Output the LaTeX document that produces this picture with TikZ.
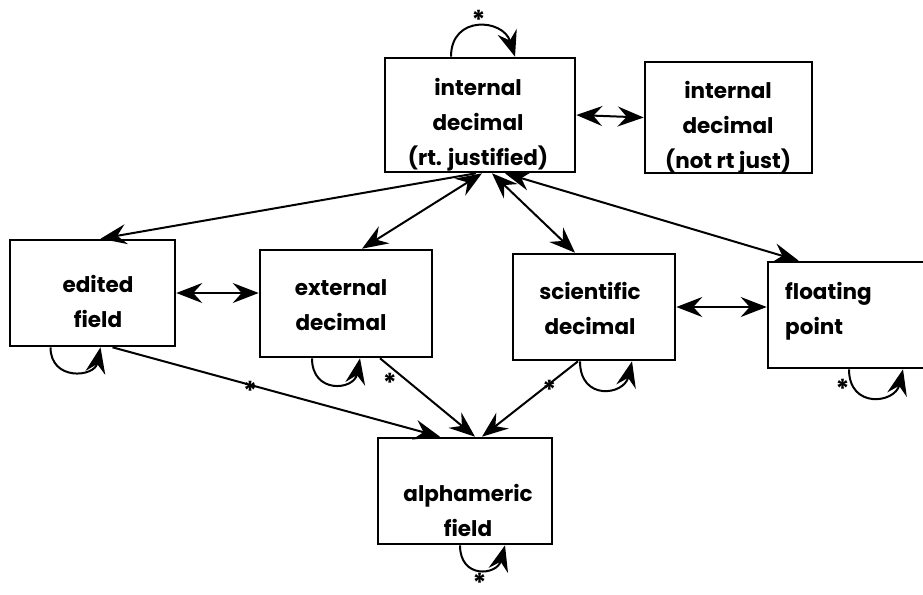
\documentclass[tikz,border=0pt]{standalone}
\usepackage{fontspec}
\setmainfont{Poppins}
\newcommand{\starmark}{\raisebox{-0.43em}[0.32em][0pt]{*}}
\usetikzlibrary{arrows.meta}

\tikzset{
  box/.style={draw, line width=2.6pt, inner sep=0pt},
  txt/.style={align=center, inner sep=0pt, font=\bfseries\fontsize{21.5}{35}\selectfont},
  conv/.style={line width=2pt},
  star/.style={font=\bfseries\fontsize{26}{26}\selectfont, inner sep=0pt},
  barb/.tip={Stealth[length=26pt,width=20pt,inset=9pt]}
}

\begin{document}
\begin{tikzpicture}[x=1pt,y=-1pt]
\useasboundingbox (0,0) rectangle (923,594);

% boxes
\node[box, minimum width=190pt, minimum height=114pt] (intr) at (480,115) {};
\node[box, minimum width=167pt, minimum height=111pt] (intn) at (728.5,117.5) {};
\node[box, minimum width=165pt, minimum height=106pt] (edit) at (92.5,293) {};
\node[box, minimum width=172pt, minimum height=107pt] (ext) at (346,303.5) {};
\node[box, minimum width=162pt, minimum height=106pt] (sci) at (594,307) {};
\node[box, minimum width=172pt, minimum height=106pt] (flt) at (854,315) {};
\node[box, minimum width=174pt, minimum height=106pt] (alpha) at (465,491) {};

% texts
\node[txt] (intr-t) at (478,125) {internal\\decimal\\(rt. justified)};
\node[txt] (intn-t) at (728,128) {internal\\decimal\\(not rt just)};
\node[txt] (edit-t) at (98,301) {edited\\field};
\node[txt] (ext-t) at (341,305) {external\\decimal};
\node[txt] (sci-t) at (590,308) {scientific\\decimal};
\node[txt, align=left, anchor=west] (flt-t) at (785,311) {floating\\point};
\node[txt] (alpha-t) at (468,510) {alphameric\\field};

% conversions
\draw[conv,barb-barb] (intr.east) -- (intn.west);
\draw[conv,-barb] ([xshift=-4pt]intr.south) -- ([xshift=8pt]edit.north);
\draw[conv,barb-barb] ([xshift=2pt]intr.south) -- ([xshift=16pt]ext.north);
\draw[conv,barb-barb] ([xshift=12pt]intr.south) -- ([xshift=-19pt]sci.north);
\draw[conv,barb-barb] ([xshift=25pt]intr.south) -- ([xshift=32pt]flt.north west);
\draw[conv,barb-barb] (edit.east) -- (ext.west |- edit.east);
\draw[conv,barb-barb] (sci.east) -- (flt.west |- sci.east);
\draw[conv,-barb] ([xshift=20pt]edit.south) -- node[star,pos=0.42] (s1) {\starmark} ([xshift=-25pt]alpha.north);
\draw[conv,-barb] ([xshift=34pt]ext.south) -- node[star,pos=0.24,left=5pt] (s2) {\starmark} ([xshift=10pt]alpha.north);
\draw[conv,-barb] ([xshift=-16pt]sci.south) -- node[star,pos=0.3] (s3) {\starmark} ([xshift=17pt]alpha.north);

% self loops
\draw[conv,-barb] ([xshift=-29pt]intr.north) .. controls +(0,-42) and +(-12,-38) .. node[star,above=7pt,pos=0.5] (s4) {\starmark} ([xshift=35pt]intr.north);
\draw[conv,-barb] ([xshift=-42pt]edit.south) .. controls +(0,34) and +(-6,30) .. ([xshift=8pt]edit.south);
\draw[conv,-barb] ([xshift=-34pt]ext.south) .. controls +(0,36) and +(-6,32) .. ([xshift=14pt]ext.south);
\draw[conv,-barb] ([xshift=-14pt]sci.south) .. controls +(0,40) and +(-8,34) .. ([xshift=38pt]sci.south);
\draw[conv,-barb] ([xshift=-5pt]flt.south) .. controls +(0,40) and +(-8,34) .. node[star,pos=0.14,left=1pt] (s5) {\starmark} ([xshift=49pt]flt.south);
\draw[conv,-barb] ([xshift=-5pt]alpha.south) .. controls +(0,34) and +(-8,30) .. node[star,below=3pt,pos=0.5] (s6) {\starmark} ([xshift=40pt]alpha.south);
\end{tikzpicture}
\end{document}
